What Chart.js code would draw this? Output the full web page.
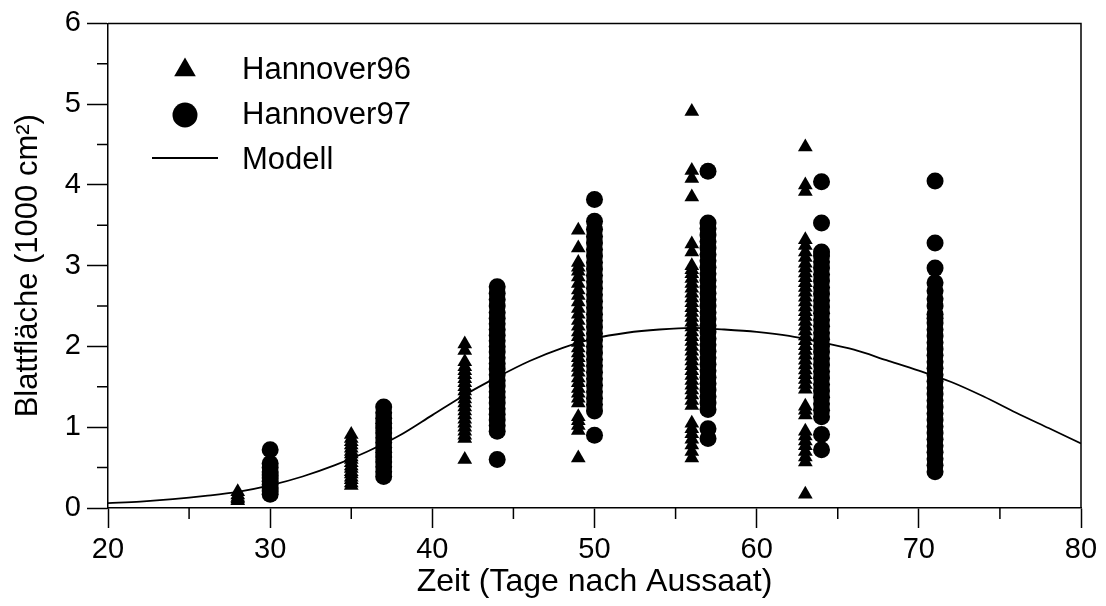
<!DOCTYPE html>
<html>
<head>
<meta charset="utf-8">
<script src="https://cdn.jsdelivr.net/npm/chart.js@4.4.1/dist/chart.umd.min.js"></script>
<style>
  html, body { margin: 0; padding: 0; background: #fff; }
  #wrap { width: 1106px; height: 606px; }
</style>
</head>
<body>
<div id="wrap"><canvas id="chart" width="1106" height="606"></canvas></div>
<script>
// Blattfläche vs. Zeit - Hannover96 / Hannover97 / Modell

// sampling days per year
const DAYS_96 = [28, 35, 42, 49, 56, 63];
const DAYS_97 = [30, 37, 44, 50, 57, 64, 71];

// Hannover96 (triangles), leaf area in 1000 cm² per sampling day
const H96 = [
  [0.09, 0.11, 0.13, 0.16, 0.2],
  [0.28, 0.31, 0.35, 0.38, 0.42, 0.45, 0.49, 0.52, 0.56, 0.6, 0.63, 0.67, 0.7, 0.74, 0.78, 0.82, 0.86, 0.91],
  [0.6, 0.86, 0.9, 0.95, 1.0, 1.05, 1.1, 1.15, 1.2, 1.25, 1.3, 1.35, 1.4, 1.45, 1.5, 1.55, 1.6, 1.65, 1.7, 1.75, 1.81, 1.95, 2.03],
  [0.62, 0.96, 1.02, 1.08, 1.13, 1.3, 1.36, 1.42, 1.48, 1.55, 1.61, 1.68, 1.74, 1.8, 1.86, 1.92, 1.98, 2.05, 2.12, 2.18,
   2.25, 2.32, 2.4, 2.47, 2.55, 2.63, 2.7, 2.78, 2.86, 2.93, 2.98, 3.04, 3.22, 3.44],
  [0.62, 0.7, 0.78, 0.85, 0.92, 0.98, 1.05, 1.27, 1.33, 1.4, 1.46, 1.52, 1.58, 1.64, 1.7, 1.76, 1.82, 1.88, 1.94, 2.0,
   2.06, 2.12, 2.18, 2.24, 2.3, 2.36, 2.42, 2.48, 2.54, 2.6, 2.66, 2.72, 2.78, 2.84, 2.9, 2.95, 3.0, 3.17, 3.27,
   3.85, 4.08, 4.18, 4.91],
  [0.17, 0.57, 0.63, 0.7, 0.77, 0.83, 0.89, 0.95, 1.15, 1.21, 1.26, 1.47, 1.53, 1.59, 1.65, 1.71, 1.77, 1.83, 1.89,
   1.95, 2.01, 2.07, 2.13, 2.19, 2.25, 2.31, 2.37, 2.43, 2.49, 2.55, 2.61, 2.67, 2.73, 2.79, 2.85, 2.91, 2.97, 3.03,
   3.1, 3.17, 3.25, 3.32, 3.92, 4.0, 4.47]
];

// Hannover97 (circles)
const H97 = [
  [0.17, 0.21, 0.25, 0.29, 0.33, 0.37, 0.41, 0.45, 0.5, 0.55, 0.72],
  [0.39, 0.45, 0.51, 0.57, 0.63, 0.69, 0.75, 0.81, 0.87, 0.93, 0.99, 1.05, 1.11, 1.18, 1.25],
  [0.6, 0.95, 1.02, 1.09, 1.16, 1.23, 1.3, 1.37, 1.44, 1.51, 1.58, 1.65, 1.72, 1.79, 1.86, 1.93, 2.0, 2.07, 2.14,
   2.21, 2.28, 2.35, 2.42, 2.5, 2.58, 2.66, 2.74],
  [0.9, 1.2, 1.28, 1.36, 1.44, 1.52, 1.6, 1.68, 1.76, 1.84, 1.92, 2.0, 2.08, 2.16, 2.24, 2.32, 2.4, 2.48, 2.56,
   2.64, 2.72, 2.8, 2.88, 2.96, 3.04, 3.12, 3.2, 3.28, 3.36, 3.45, 3.55, 3.82],
  [0.86, 0.98, 1.22, 1.3, 1.38, 1.46, 1.54, 1.62, 1.7, 1.78, 1.86, 1.94, 2.02, 2.1, 2.18, 2.26, 2.34, 2.42, 2.5,
   2.58, 2.66, 2.74, 2.82, 2.9, 2.98, 3.06, 3.14, 3.22, 3.3, 3.38, 3.46, 3.53, 4.17],
  [0.72, 0.91, 1.13, 1.21, 1.29, 1.37, 1.45, 1.53, 1.61, 1.69, 1.77, 1.85, 1.93, 2.01, 2.09, 2.17, 2.25, 2.33,
   2.41, 2.49, 2.57, 2.65, 2.73, 2.81, 2.89, 2.97, 3.05, 3.12, 3.17, 3.53, 4.04],
  [0.45, 0.53, 0.61, 0.69, 0.77, 0.85, 0.93, 1.01, 1.09, 1.17, 1.25, 1.33, 1.41, 1.49, 1.57, 1.65, 1.73, 1.81,
   1.89, 1.97, 2.05, 2.13, 2.21, 2.29, 2.35, 2.4, 2.5, 2.59, 2.69, 2.79, 2.97, 3.28, 4.05]
];

// model curve
const MODEL_X = [20, 22, 24, 26, 28, 30, 32, 34, 36, 38, 40, 42, 44, 46, 48, 50, 52, 54, 56, 58, 60, 62, 64, 66, 68, 70, 72, 74, 76, 78, 80];
const MODEL_Y = [0.06, 0.08, 0.11, 0.15, 0.2, 0.28, 0.39, 0.53, 0.7, 0.9, 1.15, 1.4, 1.62, 1.82, 1.98, 2.1, 2.17, 2.21, 2.23, 2.21, 2.18, 2.13, 2.05, 1.96, 1.83, 1.7, 1.56, 1.38, 1.18, 0.99, 0.8];

const X_MINOR = [25, 35, 45, 55, 65, 75];
const Y_MINOR = [0.5, 1.5, 2.5, 3.5, 4.5, 5.5];

const FONT = "'Liberation Sans', Arial, Helvetica, sans-serif";

function toPoints(days, cols) {
  const pts = [];
  days.forEach((d, i) => cols[i].forEach(v => pts.push({ x: d, y: v })));
  return pts;
}

// frame, minor ticks and legend inside the plot
const framePlugin = {
  id: "frame",
  afterDraw(chart) {
    const { ctx, chartArea: a, scales: { x, y } } = chart;
    ctx.save();
    ctx.strokeStyle = "#000";
    ctx.lineWidth = 1.5;
    ctx.beginPath();
    ctx.moveTo(a.left, a.top);
    ctx.lineTo(a.right, a.top);
    ctx.lineTo(a.right, a.bottom);
    X_MINOR.forEach(v => {
      const px = x.getPixelForValue(v);
      ctx.moveTo(px, a.bottom);
      ctx.lineTo(px, a.bottom + 11);
    });
    Y_MINOR.forEach(v => {
      const py = y.getPixelForValue(v);
      ctx.moveTo(a.left, py);
      ctx.lineTo(a.left - 11, py);
    });
    ctx.stroke();

    // legend
    const mx = 185, tx = 242;
    ctx.fillStyle = "#000";
    ctx.beginPath();
    const r = 12.5, cy = 70;
    ctx.moveTo(mx, cy - r);
    ctx.lineTo(mx + r * Math.sin(2 * Math.PI / 3), cy - r * Math.cos(2 * Math.PI / 3));
    ctx.lineTo(mx + r * Math.sin(4 * Math.PI / 3), cy - r * Math.cos(4 * Math.PI / 3));
    ctx.closePath();
    ctx.fill();
    ctx.beginPath();
    ctx.arc(mx, 115, 12.5, 0, Math.PI * 2);
    ctx.fill();
    ctx.lineWidth = 1.8;
    ctx.beginPath();
    ctx.moveTo(152, 158);
    ctx.lineTo(218, 158);
    ctx.stroke();

    ctx.font = "31px " + FONT;
    ctx.textBaseline = "alphabetic";
    ctx.textAlign = "left";
    ctx.fillText("Hannover96", tx, 79);
    ctx.fillText("Hannover97", tx, 124);
    ctx.fillText("Modell", tx, 169);
    ctx.restore();
  }
};

new Chart(document.getElementById("chart"), {
  type: "scatter",
  data: {
    datasets: [
      {
        label: "Hannover96",
        data: toPoints(DAYS_96, H96),
        pointStyle: "triangle",
        pointRadius: 8.5,
        backgroundColor: "#000",
        borderWidth: 0
      },
      {
        label: "Hannover97",
        data: toPoints(DAYS_97, H97),
        pointStyle: "circle",
        pointRadius: 8.5,
        backgroundColor: "#000",
        borderWidth: 0
      },
      {
        type: "line",
        label: "Modell",
        data: MODEL_X.map((xv, i) => ({ x: xv, y: MODEL_Y[i] })),
        borderColor: "#000",
        borderWidth: 1.8,
        pointRadius: 0,
        fill: false,
        cubicInterpolationMode: "monotone"
      }
    ]
  },
  options: {
    responsive: false,
    animation: false,
    devicePixelRatio: 1,
    layout: { padding: { top: 20, right: 25, left: 0, bottom: 0 } },
    plugins: { legend: { display: false }, tooltip: { enabled: false } },
    scales: {
      x: {
        type: "linear",
        min: 20, max: 80,
        afterFit: s => { s.height = 98; },
        ticks: { stepSize: 10, color: "#000", padding: 5, font: { family: FONT, size: 29 } },
        grid: { drawOnChartArea: false, drawTicks: true, tickLength: 20, tickColor: "#000", tickWidth: 1.5 },
        border: { display: true, color: "#000", width: 1.5 },
        title: { display: true, text: "Zeit (Tage nach Aussaat)", color: "#000", font: { family: FONT, size: 32 }, padding: { top: 0, bottom: 5 } }
      },
      y: {
        min: 0, max: 6,
        afterFit: s => { s.width = 108; },
        ticks: { stepSize: 1, color: "#000", padding: 6, font: { family: FONT, size: 29 } },
        grid: { drawOnChartArea: false, drawTicks: true, tickLength: 21, tickColor: "#000", tickWidth: 1.5 },
        border: { display: true, color: "#000", width: 1.5 },
        title: { display: true, text: "Blattfläche (1000 cm²)", color: "#000", font: { family: FONT, size: 31 }, padding: { top: 10, bottom: 0 } }
      }
    }
  },
  plugins: [framePlugin]
});
</script>
</body>
</html>
